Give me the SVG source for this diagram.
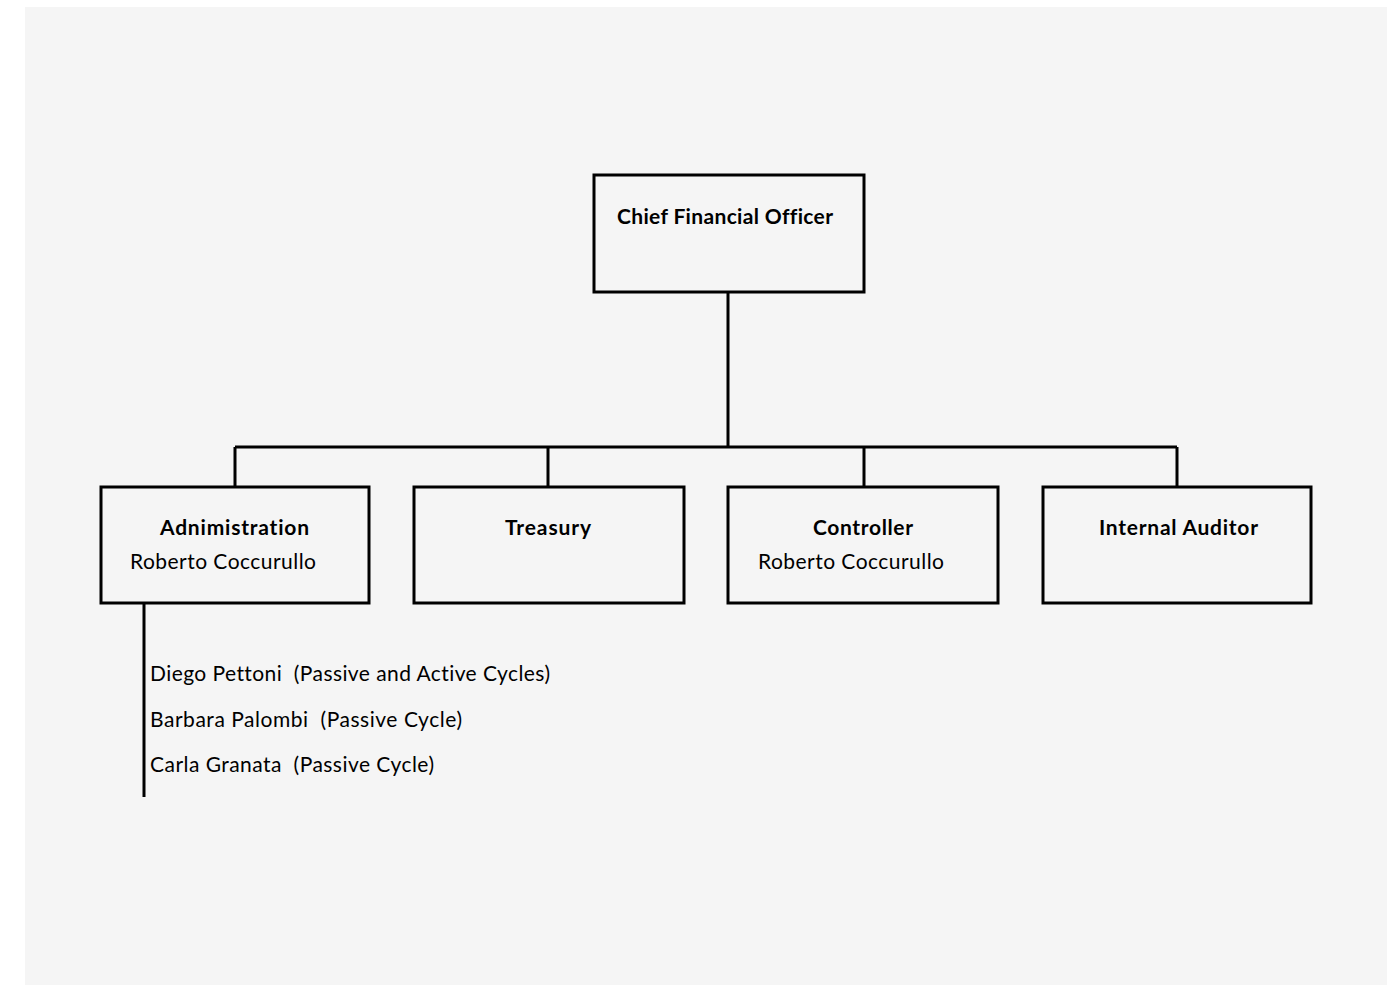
<svg xmlns="http://www.w3.org/2000/svg" width="1398" height="985" viewBox="0 0 1398 985">
<style>
.bg{fill:#f5f5f5}
.box{fill:#f5f5f5;stroke:#000;stroke-width:3}
.ln{fill:none;stroke:#000;stroke-width:3}
text{font-family:Lato,"Open Sans","Liberation Sans",sans-serif;font-size:21px;fill:#000;font-variant-ligatures:none}
.b{font-weight:bold}
</style>
<rect x="0" y="0" width="1398" height="985" fill="#fff"/>
<rect class="bg" x="25" y="7" width="1362" height="978"/>
<g id="connectors">
<path class="ln" d="M728 292V447M235 447H1177M235 447V487M548 447V487M864 447V487M1177 447V487M144 603V797"/>
</g>
<g id="cfo">
<rect class="box" x="594" y="175" width="270" height="117"/>
<text class="b" x="617" y="224" textLength="216">Chief Financial Officer</text>
</g>
<g id="administration">
<rect class="box" x="101" y="487" width="268" height="116"/>
<text class="b" x="160" y="535" textLength="149">Adnimistration</text>
<text x="130" y="569" textLength="186">Roberto Coccurullo</text>
</g>
<g id="treasury">
<rect class="box" x="414" y="487" width="270" height="116"/>
<text class="b" x="505" y="535" textLength="86">Treasury</text>
</g>
<g id="controller">
<rect class="box" x="728" y="487" width="270" height="116"/>
<text class="b" x="813" y="535" textLength="100">Controller</text>
<text x="758" y="569" textLength="186">Roberto Coccurullo</text>
</g>
<g id="internal-auditor">
<rect class="box" x="1043" y="487" width="268" height="116"/>
<text class="b" x="1099" y="535" textLength="159">Internal Auditor</text>
</g>
<g id="admin-staff">
<text x="150" y="681" textLength="400" xml:space="preserve">Diego Pettoni  (Passive and Active Cycles)</text>
<text x="150" y="727" textLength="312" xml:space="preserve">Barbara Palombi  (Passive Cycle)</text>
<text x="150" y="772" textLength="284" xml:space="preserve">Carla Granata  (Passive Cycle)</text>
</g>
</svg>
